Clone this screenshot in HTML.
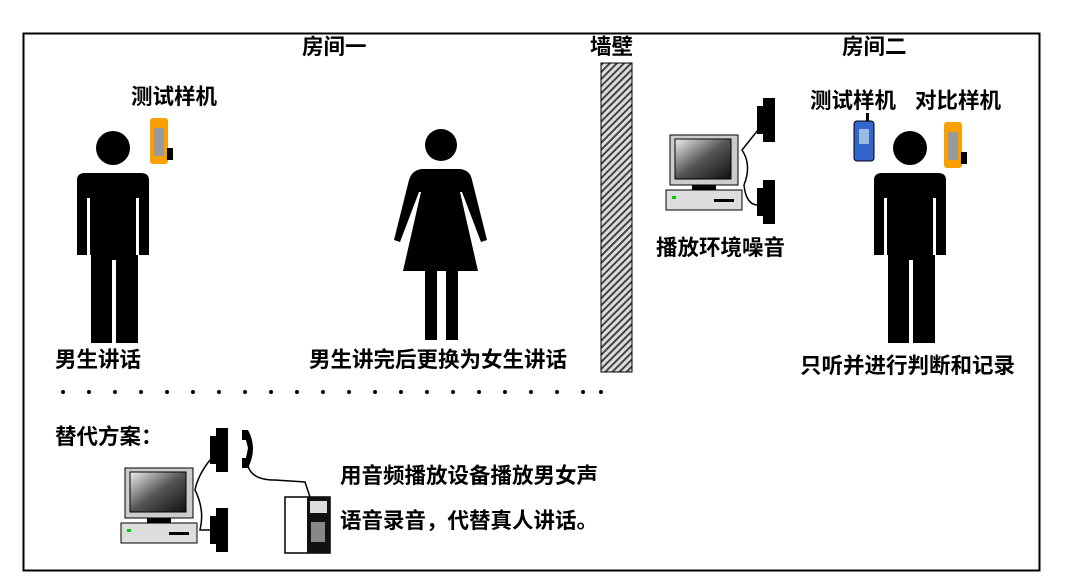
<!DOCTYPE html>
<html><head><meta charset="utf-8"><style>
body{margin:0;background:#fff}
svg{display:block}
text{font-family:"Liberation Sans","Noto Sans CJK SC",sans-serif;font-weight:bold;font-size:21.5px;fill:#000}
</style></head><body>
<svg width="1080" height="587" viewBox="0 0 1080 587" xmlns="http://www.w3.org/2000/svg">
<defs>
<pattern id="h" width="5" height="5" patternUnits="userSpaceOnUse" patternTransform="rotate(45)">
<rect width="5" height="5" fill="#ddd"/><rect width="2" height="5" fill="#444"/></pattern>
<linearGradient id="scr" x1="0" y1="0" x2="1" y2="1"><stop offset="0" stop-color="#eee"/><stop offset="0.5" stop-color="#555"/><stop offset="1" stop-color="#111"/></linearGradient>
<g id="man">
<circle cx="0" cy="0" r="17"/>
<path d="M-36 32 Q-36 25 -28 25 L28 25 Q36 25 36 32 L36 107 L26 107 L26 50 L23 50 L23 107 L25 107 L25 195 L3 195 L3 112 L-1 112 L-1 195 L-22 195 L-22 107 L-23 107 L-23 50 L-26 50 L-26 107 L-36 107 Z"/>
</g>
<g id="pc">
<rect x="0" y="0" width="68" height="50" fill="#ccc" stroke="#000"/>
<rect x="5" y="4" width="56" height="40" fill="url(#scr)" stroke="#000"/>
<rect x="22" y="50" width="24" height="5" fill="#000"/>
<rect x="-4" y="55" width="76" height="20" fill="#ddd" stroke="#000"/>
<rect x="2" y="61" width="4" height="3" fill="#0c0"/>
<rect x="44" y="64" width="20" height="3" fill="#000"/>
</g>
<g id="spk"><path d="M2 8 L8 8 L8 0 L20 0 L20 44 L8 44 L8 36 L2 36 Z"/></g>
</defs>
<rect x="23.5" y="33.5" width="1016" height="537" fill="none" stroke="#000" stroke-width="2"/>
<text x="302" y="54">房间一</text>
<text x="590" y="54">墙壁</text>
<text x="842" y="54">房间二</text>
<rect x="601" y="63" width="31" height="309" fill="url(#h)" stroke="#000"/>
<!-- man 1 -->
<use href="#man" x="113" y="148"/>
<text x="131" y="104">测试样机</text>
<g transform="translate(150,118)"><rect x="0" y="0" width="18" height="46" rx="3" fill="#f7a000"/><rect x="4" y="10" width="10" height="28" fill="#999"/><rect x="17" y="30" width="6" height="12" fill="#000"/></g>
<text x="55" y="367">男生讲话</text>
<!-- woman -->
<circle cx="441" cy="145" r="16"/>
<path d="M422 169 L460 169 Q470 170 472 180 L487 240 L481 242 L462 192 L460 192 L478 271 L458 271 L458 340 L446 340 L446 271 L437 271 L437 340 L425 340 L425 271 L403 271 L421 192 L419 192 L400 242 L394 240 L409 180 Q412 170 422 169 Z"/>
<text x="309" y="367">男生讲完后更换为女生讲话</text>
<!-- right room -->
<use href="#pc" x="670" y="135"/>
<use href="#spk" x="755" y="98"/>
<use href="#spk" x="755" y="180"/>
<path d="M758 130 Q750 140 742 150 Q752 165 744 185 Q746 205 758 205" fill="none" stroke="#000" stroke-width="1.5"/>
<text x="656" y="255">播放环境噪音</text>
<use href="#man" x="910" y="148"/>
<text x="810" y="108">测试样机</text>
<text x="915" y="108">对比样机</text>
<g transform="translate(854,121)"><rect x="0" y="0" width="20" height="40" rx="3" fill="#3366cc" stroke="#000"/><rect x="5" y="8" width="10" height="15" fill="#9bd"/><rect x="12" y="-8" width="3" height="8" fill="#000"/></g>
<g transform="translate(944,122)"><rect x="0" y="0" width="18" height="46" rx="3" fill="#f7a000"/><rect x="4" y="10" width="10" height="28" fill="#999"/><rect x="17" y="30" width="6" height="12" fill="#000"/></g>
<text x="800" y="373">只听并进行判断和记录</text>
<!-- dots -->
<g fill="#000">
<circle cx="63" cy="392" r="2"/><circle cx="89" cy="392" r="2"/><circle cx="115" cy="392" r="2"/><circle cx="141" cy="392" r="2"/><circle cx="167" cy="392" r="2"/><circle cx="193" cy="392" r="2"/><circle cx="219" cy="392" r="2"/><circle cx="245" cy="392" r="2"/><circle cx="271" cy="392" r="2"/><circle cx="297" cy="392" r="2"/><circle cx="323" cy="392" r="2"/><circle cx="349" cy="392" r="2"/><circle cx="375" cy="392" r="2"/><circle cx="401" cy="392" r="2"/><circle cx="427" cy="392" r="2"/><circle cx="453" cy="392" r="2"/><circle cx="479" cy="392" r="2"/><circle cx="505" cy="392" r="2"/><circle cx="531" cy="392" r="2"/><circle cx="557" cy="392" r="2"/><circle cx="583" cy="392" r="2"/><circle cx="601" cy="392" r="2"/>
</g>
<!-- bottom -->
<text x="55" y="444">替代方案：</text>
<use href="#pc" x="125" y="468"/>
<use href="#spk" x="208" y="428"/>
<use href="#spk" x="208" y="508"/>
<path d="M210 460 Q198 475 195 490 Q205 510 200 530 L210 530" fill="none" stroke="#000" stroke-width="1.5"/>
<path d="M242 430 L248 430 Q258 448 248 468 L242 468 L242 458 L246 458 L248 448 L246 440 L242 440 Z"/>
<path d="M248 466 Q252 480 275 480 L305 482 L310 497" fill="none" stroke="#000" stroke-width="1.5"/>
<g transform="translate(285,497)"><rect width="45" height="56" fill="#fff" stroke="#000" stroke-width="1.5"/><rect x="22" y="0" width="23" height="56" fill="#111"/><rect x="25" y="4" width="17" height="12" fill="#ddd"/><rect x="26" y="25" width="14" height="20" fill="#888"/></g>
<text x="340" y="483">用音频播放设备播放男女声</text>
<text x="340" y="528">语音录音，代替真人讲话。</text>
</svg>
</body></html>
